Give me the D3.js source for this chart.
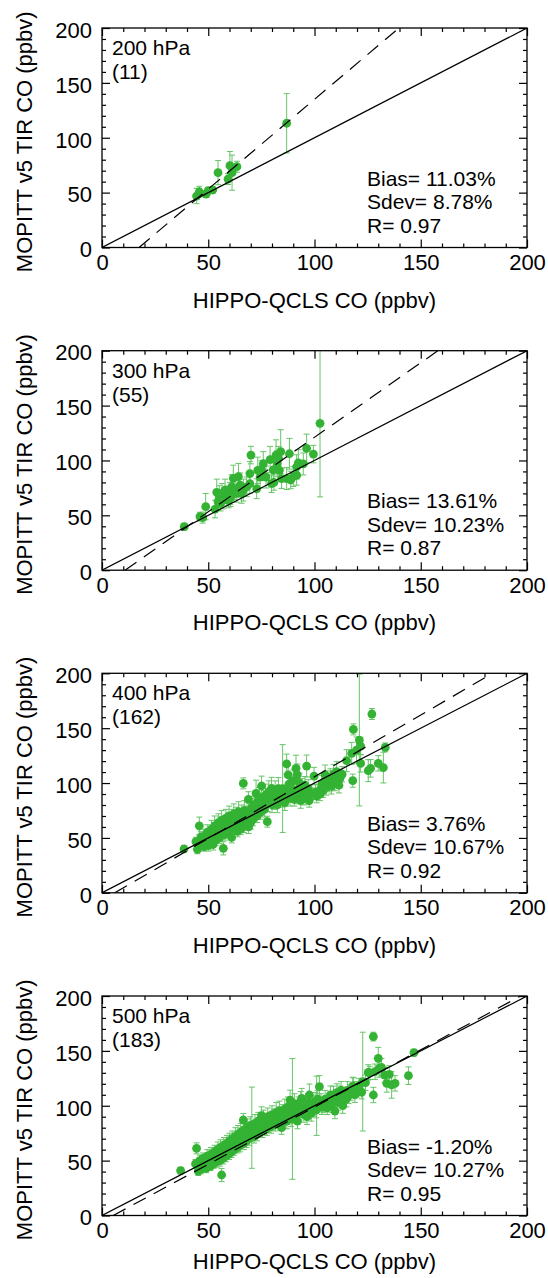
<!DOCTYPE html>
<html><head><meta charset="utf-8">
<script src="https://cdn.jsdelivr.net/npm/d3@7"></script>
<style>
body{margin:0;background:#fff}
svg{display:block}
text{font-family:"Liberation Sans",Arial,Helvetica,sans-serif;fill:#000}
</style>
</head><body>
<svg id="c" width="548" height="1278"></svg>
<script>
// ---------------- data ----------------
const levels = ["200 hPa","300 hPa","400 hPa","500 hPa"];
const counts = ["(11)","(55)","(162)","(183)"];
const biasText = ["11.03%","13.61%","3.76%","-1.20%"];
const sdevText = ["8.78%","10.23%","10.67%","10.27%"];
const rText = ["0.97","0.87","0.92","0.95"];
const fitSlope = [1.635,1.358,1.125,1.043];
const fitIntercept = [-28.5,-14.7,-6.75,-5.5];
const majorTicks = [0,50,100,150,200];
const minorTicks = [10,20,30,40,60,70,80,90,110,120,130,140,160,170,180,190];

// 200 hPa
const x200 = [44.5,45.8,49,50,52.1,54.6,59.3,60.2,61.2,63.5,86.9];
const y200 = [46.9,50.8,48.7,51.8,52.4,68.2,62.4,74.5,68.2,73.6,113.2];
const e200 = [7,5,3,3,3,11,5,13,16,5,27];

// 300 hPa
const x300 = [38.7,46.1,47.4,48.8,53.2,54,54.6,55.2,55.8,56.5,57.1,57.9,58.7,59.5,60.2,61,61.8,62.6,63.4,64.2,65,65.7,66.5,68.1,69.6,70.1,69.6,72.8,73.3,74.4,75.9,75.1,77.2,79.1,79.8,80.6,80.9,81.9,82.5,83.1,83.5,84.1,84.5,86.9,88.2,88.8,90,91.6,92.4,91.6,94.7,96.3,99.5,102.6,60.5];
const y300 = [39.7,48.8,47.9,57.9,55.7,71,62.4,67,61,70,63.9,73,67.7,63.9,70,76,83.7,73,70,85.3,77.6,70,73,76,88,104.9,78.8,74.2,91,84.9,97,91,84.9,100.8,78.8,91.5,79.9,104.8,97.2,101.8,91,108,83.5,83.5,106.1,82.2,85.3,94.2,97.8,86.5,96.8,111,105.8,133.8,66];
const e300 = [3,4,5,12,8,12,8,10,7,9,8,10,9,7,10,11,12,9,8,12,11,9,10,9,11,8,9,9,12,10,11,9,10,12,8,10,7,14,12,11,10,20,9,10,14,8,9,11,12,9,10,13,8,67,8];

// 400 hPa
const x400 = [38.6,44.2,44.9,45.8,46.6,47,47.5,48,48.5,49,49.5,50,50.2,50.8,51,51.5,52,52.3,52.8,53,53.5,54,54.2,54.8,55,55.3,55.8,56,56.3,56.8,57.1,57.3,57.8,58,58.3,58.8,59,59.3,59.8,60,60.3,60.8,61,61.3,61.8,62,62.3,62.8,63,63.3,63.8,64,64.3,64.8,65,65.3,65.8,66,66.5,66.8,67,67.3,67.8,68,68.3,68.9,69,69.3,69.8,70,70.3,70.8,71,71.5,72,72.5,73,73.3,73.8,74,74.5,75.1,75.5,76,76.5,77,77.8,78,78.5,79,79.8,80,80.5,81,81.5,82,82.5,83,83.5,84,85,85.5,86,86.9,87.3,87.6,88,88.5,89,89.5,90,90.5,91.3,91.9,92,92.5,93,93.5,94,94.5,95,95.5,96,96.3,96.8,97,97.5,98,99.8,100.5,101,102.6,103,103.5,104,104.5,105,105.5,106,107,107.5,108,108.5,109,109.5,110.4,111,111.5,112,113,115.1,117.5,118,118.3,119.8,121.1,121.7,121.7,125.3,126.4,127,130,132.4,133.3];
const y400 = [39.9,46.6,39.6,61,51,44,48,42,52,46,55,43,49,53,47,58,50,44,55,61,48,57,52,64,59,50,62,55,66,58,40.5,63,53,60,68,56,64,60,70,57,65,62,50.5,68,59,72,64,67,60,70,56,66,74,62,69,58,72,65,99.7,61,75,68,63,71,66,85.1,60,73,69,64,77,71,67,80,74,90.6,70,83,77,87,73,97.3,80,85,76,89,64.8,82,92,86,95.2,80,89,84,93,87,80,95,90,85,95,88,82,117.4,92,107.4,99,86,95,90,102,85,113.4,107.4,94,88,100,84,96,90,86,98,92,115.5,88,95,84,90,106.3,92,88,90,95,99,93,101,107.4,96,103,99,105,97,102,108,100,110.4,104,98,104.3,108,120.4,127,102.2,148.9,130,139.2,133.7,118,111.3,113.4,162.9,118,114.1,132.5];
const e400 = [3,4,4,8,5,4,5,4,6,5,7,5,5,6,4,8,5,5,6,9,5,7,5,8,6,5,7,5,9,6,6,7,5,6,8,5,7,6,9,5,7,6,5,8,5,9,6,7,5,8,5,6,9,6,7,5,8,6,5,6,9,7,6,8,6,7,6,8,7,6,9,7,6,8,7,12,6,8,7,9,6,9,8,8,7,10,5,8,10,8,10,7,8,8,9,7,7,10,8,7,40,8,7,9,8,10,9,7,8,7,10,6,12,10,8,7,9,7,8,7,6,8,8,10,7,8,6,6,8,7,6,6,7,8,6,8,9,7,8,7,8,7,8,9,7,9,8,7,8,7,10,10,6,5,12,60,8,8,10,8,5,7,14,4];

// 500 hPa
const x500 = [37,44,44.5,45.3,45.5,46,46.5,47,47.5,48,48.5,49,49.5,50,50.5,51,51.3,51.8,52,52.5,53,53.3,53.8,54,54.5,54.8,55,55.5,55.8,56,56.3,56.5,57,57.3,57.8,58,58.3,58.8,59,59.3,59.8,60,60.3,60.8,61,61.3,61.8,62,62.3,62.8,63,63.3,63.8,64,64.3,64.8,65,65.3,65.8,66,66.5,66.8,67,67.3,67.8,68,68.3,68.8,69,69.3,69.8,70.5,70.8,71,71.5,72,72.3,72.8,73,73.5,74,74.5,75.1,75.5,76,76.5,77,77.5,78,78.5,79,79.5,80,80.5,81,81.5,82,82.5,83,83.5,84,84.5,85,85.5,86,86.5,87,87.5,88,88.5,89,89.6,90,90.5,91,91.5,92,92.5,93,93.5,94,94.5,95,95.5,96,96.5,97,97.6,98,98.5,99,99.8,100.3,100.8,101,101.5,102.3,103,103.5,104.2,105,105.5,106,107,107.5,108,108.9,109.6,110,110.5,111,111.8,112.5,113.3,114,115,115.5,116,117,118.3,119,120,122.2,122.7,125.3,126,127.7,127.7,128.5,130,130.5,131.5,133,134,135.2,136.3,137.9,144.2,146.8,118,121,124,112];
const y500 = [40.9,47,61.2,40.5,44,50,42,47,52,45,49,43,54,47,51,45,56,49,53,47,58,51,55,49,60,53,57,50,62,55,36.9,59,52,64,57,61,54,66,59,63,56,68,61,65,58,70,63,67,60,72,65,69,62,74,67,71,64,76,69,73,87,66,78,71,75,68,80,73,77,70,82,80,75,79,72,84,77,81,74,86,79,83,91,77,88,81,85,79,90,83,87,81,92,85,89,83,94,87,91,95.2,85,80,93,89,97,91,86,99,93,105.2,88,88,95,102,91,97,86,100,94,104,106.8,97,92,100,95,90,103,109.8,98,93,101,97.6,104,96,100,106,117.4,103,99,100.7,106,102,98,104,110,101,109.8,95.2,106,112,103,108,114,100.1,110,106,114,109,112,117.4,110,115,112.3,122,130.4,130,109.8,163,131,143.2,134,135,128,120.4,128.6,118.9,120.4,127.4,148.4,118,118,121,111];
const e500 = [3,4,5,4,4,5,4,5,5,4,5,4,6,5,5,4,6,5,5,4,6,5,5,5,7,5,6,5,7,5,6,6,5,7,5,6,5,7,6,6,5,7,6,6,5,7,6,6,5,8,6,6,5,8,6,7,6,8,6,7,6,6,8,6,7,6,8,6,7,6,8,37,7,7,6,8,7,7,6,8,7,7,8,6,8,7,7,6,8,7,7,6,8,7,8,6,9,7,8,9,7,6,8,7,9,7,7,9,7,9,7,55,8,9,7,8,7,8,7,9,9,7,7,8,7,7,8,10,7,7,8,7,8,7,27,8,10,8,7,7,8,7,6,7,8,7,8,7,7,8,7,7,8,7,7,7,8,7,7,8,7,7,6,45,7,6,7,4,7,10,8,8,7,8,8,12,7,8,3,8,7,7,7];

const xs = [x200,x300,x400,x500];
const ys = [y200,y300,y400,y500];
const es = [e200,e300,e400,e500];

// ---------------- layout ----------------
const plotLeft = 102, plotW = 425, plotH = 219.5;
const tops = [28, 350.7, 673.3, 996];
const xTitleOffset = [60, 60, 60, 53];
const FS = 22, FSA = 21;
const green = "#33b233", errGreen = "#66c566";

const svg = d3.select("#c");

tops.forEach((top, i) => {
  const x = d3.scaleLinear().domain([0,200]).range([0,plotW]);
  const y = d3.scaleLinear().domain([0,200]).range([plotH,0]);
  const g = svg.append("g").attr("transform", `translate(${plotLeft},${top})`);

  const cid = "clip" + i;
  g.append("clipPath").attr("id", cid).append("rect")
    .attr("x",0).attr("y",0).attr("width",plotW).attr("height",plotH);
  const inner = g.append("g").attr("clip-path", `url(#${cid})`);

  const data = xs[i].map((v,k)=>({x:v, y:ys[i][k], e:es[i][k]}));

  // error bars
  const eb = inner.append("g").attr("stroke", errGreen).attr("stroke-width",1).attr("fill","none");
  data.forEach(d => {
    const px = x(d.x), y1 = y(d.y + d.e), y0 = y(d.y - d.e);
    eb.append("line").attr("x1",px).attr("x2",px).attr("y1",y1).attr("y2",y0);
    eb.append("line").attr("x1",px-3).attr("x2",px+3).attr("y1",y1).attr("y2",y1);
    eb.append("line").attr("x1",px-3).attr("x2",px+3).attr("y1",y0).attr("y2",y0);
  });
  // points
  inner.append("g").selectAll("circle").data(data).join("circle")
    .attr("cx", d=>x(d.x)).attr("cy", d=>y(d.y)).attr("r",4.4).attr("fill",green);

  // 1:1 line
  inner.append("line").attr("x1",x(0)).attr("y1",y(0)).attr("x2",x(200)).attr("y2",y(200))
    .attr("stroke","#000").attr("stroke-width",1.2);
  // fit line
  const a = fitSlope[i], b = fitIntercept[i];
  const xa = -b/a, xb = Math.min((200-b)/a, 200);
  inner.append("line").attr("x1",x(xa)).attr("y1",y(0)).attr("x2",x(xb)).attr("y2",y(a*xb+b))
    .attr("stroke","#000").attr("stroke-width",1.2).attr("stroke-dasharray","14,9");

  // axes with inward ticks
  const styleAxis = sel => { sel.select(".domain").remove(); sel.selectAll("line").attr("stroke","#000").attr("stroke-width",1.2); };
  g.append("g").attr("transform",`translate(0,${plotH})`)
    .call(d3.axisBottom(x).tickValues(majorTicks).tickSize(-8).tickSizeOuter(0).tickPadding(7))
    .call(styleAxis)
    .call(s=>s.selectAll("text").attr("font-size",FS).attr("font-family",null).attr("fill","#000"));
  g.append("g").attr("transform",`translate(0,${plotH})`)
    .call(d3.axisBottom(x).tickValues(minorTicks).tickSize(-4).tickSizeOuter(0).tickFormat(""))
    .call(styleAxis);
  g.append("g")
    .call(d3.axisLeft(y).tickValues(majorTicks).tickSize(-8).tickSizeOuter(0).tickPadding(10))
    .call(styleAxis)
    .call(s=>s.selectAll("text").attr("font-size",FS).attr("font-family",null).attr("fill","#000").attr("dy","0.42em"));
  g.append("g")
    .call(d3.axisLeft(y).tickValues(minorTicks).tickSize(-4).tickSizeOuter(0).tickFormat(""))
    .call(styleAxis);
  g.append("g")
    .call(d3.axisTop(x).tickValues(majorTicks).tickSize(-8).tickSizeOuter(0).tickFormat(""))
    .call(styleAxis);
  g.append("g")
    .call(d3.axisTop(x).tickValues(minorTicks).tickSize(-4).tickSizeOuter(0).tickFormat(""))
    .call(styleAxis);
  g.append("g").attr("transform",`translate(${plotW},0)`)
    .call(d3.axisRight(y).tickValues(majorTicks).tickSize(-8).tickSizeOuter(0).tickFormat(""))
    .call(styleAxis);
  g.append("g").attr("transform",`translate(${plotW},0)`)
    .call(d3.axisRight(y).tickValues(minorTicks).tickSize(-4).tickSizeOuter(0).tickFormat(""))
    .call(styleAxis);

  // frame
  g.append("rect").attr("x",0).attr("y",0).attr("width",plotW).attr("height",plotH)
    .attr("fill","none").attr("stroke","#000").attr("stroke-width",1.3);

  // titles
  g.append("text").attr("x",plotW/2).attr("y",plotH+xTitleOffset[i]).attr("text-anchor","middle")
    .attr("font-size",FS).text("HIPPO-QCLS CO (ppbv)");
  g.append("text").attr("transform",`translate(${32-plotLeft},${plotH/2+4}) rotate(-90)`)
    .attr("text-anchor","middle").attr("font-size",FS).text("MOPITT v5 TIR CO (ppbv)");

  // annotations
  g.append("text").attr("x",10).attr("y",27).attr("font-size",FSA).text(levels[i]);
  g.append("text").attr("x",10).attr("y",51).attr("font-size",FSA).text(counts[i]);
  g.append("text").attr("x",265).attr("y",157.5).attr("font-size",FSA).text("Bias= " + biasText[i]);
  g.append("text").attr("x",265).attr("y",181).attr("font-size",FSA).text("Sdev= " + sdevText[i]);
  g.append("text").attr("x",265).attr("y",204.5).attr("font-size",FSA).text("R= " + rText[i]);
});
</script>
</body></html>
